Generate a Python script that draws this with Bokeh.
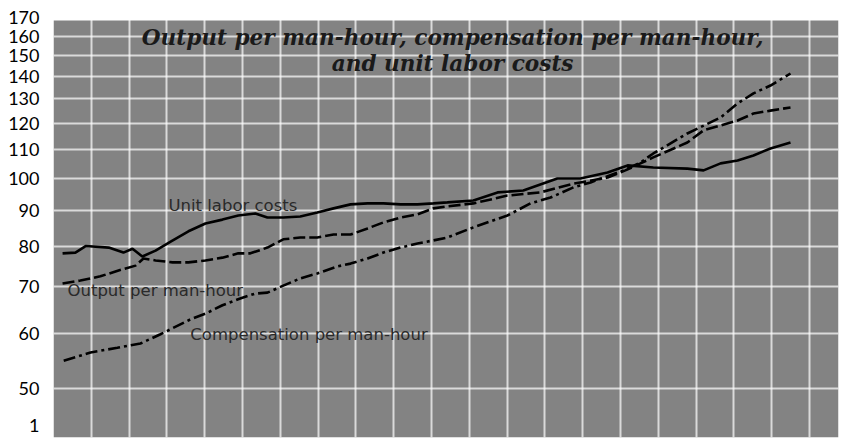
from bokeh.plotting import figure
from bokeh.models import Range1d, FixedTicker, BoxAnnotation, Label
from bokeh.embed import file_html
from bokeh.resources import INLINE

# ---------------- data (index values) ----------------
ulc_t = [1947.24, 1947.58, 1947.85, 1948.46, 1948.85, 1949.09, 1949.35, 1949.70,
         1950.10, 1950.57, 1951.02, 1951.47, 1951.89, 1952.34, 1952.66, 1953.08,
         1953.53, 1953.98, 1954.41, 1954.86, 1955.31, 1955.73, 1956.18, 1956.63,
         1957.05, 1957.42, 1958.11, 1958.75, 1959.43, 1960.33, 1960.94, 1961.66,
         1962.19, 1962.87, 1963.77, 1964.20, 1964.65, 1965.10, 1965.52, 1965.97,
         1966.50]
ulc_v = [78.1, 78.3, 80.0, 79.6, 78.3, 79.3, 77.3, 78.8,
         81.2, 84.0, 86.2, 87.3, 88.5, 89.1, 87.9, 87.9,
         88.2, 89.4, 90.6, 91.8, 92.1, 92.1, 91.8, 91.8,
         92.1, 92.4, 93.0, 95.5, 96.1, 100.0, 100.0, 102.0,
         104.4, 103.7, 103.3, 102.7, 105.1, 106.1, 107.9, 110.4,
         112.6]

out_t = [1947.24, 1947.71, 1948.24, 1948.72, 1949.17, 1949.38, 1949.70, 1950.15,
         1950.57, 1951.02, 1951.47, 1951.89, 1952.21, 1952.66, 1953.08, 1953.53,
         1953.98, 1954.41, 1954.86, 1955.31, 1955.73, 1956.18, 1956.63, 1957.05,
         1957.42, 1958.11, 1959.01, 1959.88, 1960.76, 1961.66, 1962.13, 1962.53,
         1962.87, 1963.77, 1964.20, 1964.65, 1965.10, 1965.52, 1965.97, 1966.50]
out_v = [70.7, 71.4, 72.4, 73.8, 75.0, 76.8, 76.3, 75.8,
         75.8, 76.3, 77.0, 78.1, 78.1, 79.6, 81.8, 82.3,
         82.3, 83.1, 83.1, 84.8, 86.5, 87.9, 88.8, 90.6,
         91.2, 92.1, 94.5, 95.5, 98.3, 100.3, 102.7, 105.1,
         107.2, 112.6, 117.2, 119.1, 121.1, 123.9, 125.1, 126.4]

comp_t = [1947.27, 1947.98, 1948.69, 1949.30, 1949.83, 1950.62, 1951.02, 1951.47,
          1951.94, 1952.34, 1952.66, 1953.08, 1953.53, 1953.98, 1954.51, 1954.86,
          1955.31, 1955.73, 1956.18, 1956.63, 1957.05, 1957.42, 1958.11, 1959.01,
          1959.62, 1960.15, 1960.76, 1961.21, 1962.08, 1962.53, 1962.87, 1963.77,
          1964.65, 1965.10, 1965.52, 1965.97, 1966.50]
comp_v = [54.8, 56.3, 57.2, 58.0, 59.8, 62.8, 64.0, 65.8,
          67.3, 68.4, 68.6, 70.2, 71.9, 73.1, 74.8, 75.5,
          76.8, 78.3, 79.6, 80.7, 81.5, 82.3, 85.1, 88.5,
          92.1, 93.9, 97.1, 98.7, 102.7, 105.4, 108.6, 116.0,
          122.3, 128.1, 132.4, 135.9, 141.4]

y_ticks = [44.26, 50, 60, 70, 80, 90, 100, 110, 120, 130, 140, 150, 160, 170]
y_tick_labels = ["1", "50", "60", "70", "80", "90", "100", "110", "120",
                 "130", "140", "150", "160", "170"]
year_lines = list(range(1948, 1968))

title_lines = ["Output per man-hour, compensation per man-hour,",
               "and unit labor costs"]
series_names = ["Unit labor costs", "Output per man-hour", "Compensation per man-hour"]

# ---------------- figure ----------------
p = figure(width=841, height=439, y_axis_type="log",
           x_range=Range1d(1947.0, 1967.77), y_range=Range1d(42.53, 171.8),
           output_backend="svg", toolbar_location=None,
           min_border_left=53, min_border_right=3, min_border_top=14,
           min_border_bottom=2)

p.background_fill_color = "white"
p.border_fill_color = "white"
p.outline_line_color = None

p.add_layout(BoxAnnotation(top=168.4, fill_color="#838383", fill_alpha=1.0,
                           line_color=None, level="image"))

p.xaxis.visible = False
p.xgrid.ticker = FixedTicker(ticks=year_lines)
p.xgrid.grid_line_color = "white"
p.xgrid.grid_line_width = 2
p.xgrid.grid_line_alpha = 0.7

p.yaxis.ticker = FixedTicker(ticks=y_ticks)
p.yaxis.major_label_overrides = {t: l for t, l in zip(y_ticks, y_tick_labels)}
p.yaxis.axis_line_color = None
p.yaxis.major_tick_line_color = None
p.yaxis.minor_tick_line_color = None
p.yaxis.major_tick_out = 0
p.yaxis.major_label_standoff = 14
p.yaxis.major_label_text_font = "Lato"
p.yaxis.major_label_text_font_size = "18px"
p.yaxis.major_label_text_color = "black"

p.ygrid.ticker = FixedTicker(ticks=y_ticks[1:])
p.ygrid.grid_line_color = "white"
p.ygrid.grid_line_width = 2
p.ygrid.grid_line_alpha = 0.7

p.line(ulc_t, ulc_v, line_color="black", line_width=2.6)
p.line(out_t, out_v, line_color="black", line_width=2.6, line_dash="12 4")
p.line(comp_t, comp_v, line_color="black", line_width=2.6, line_dash="12 4 3 4")

for txt, yv in zip(title_lines, [159.2, 146.2]):
    p.add_layout(Label(x=1957.56, y=yv, text=txt, text_align="center",
                       text_baseline="middle", text_font="DejaVu Serif",
                       text_font_style="bold italic", text_font_size="21.6px",
                       text_color="#1a1a1a"))

for txt, xv, yv in zip(series_names, [1950.04, 1947.37, 1950.62], [91.5, 69.1, 59.8]):
    p.add_layout(Label(x=xv, y=yv, text=txt, text_align="left",
                       text_baseline="middle", text_font="DejaVu Sans",
                       text_font_size="16.5px", text_color="#2a2a2a"))

open("out.html", "w").write(file_html(p, INLINE))
